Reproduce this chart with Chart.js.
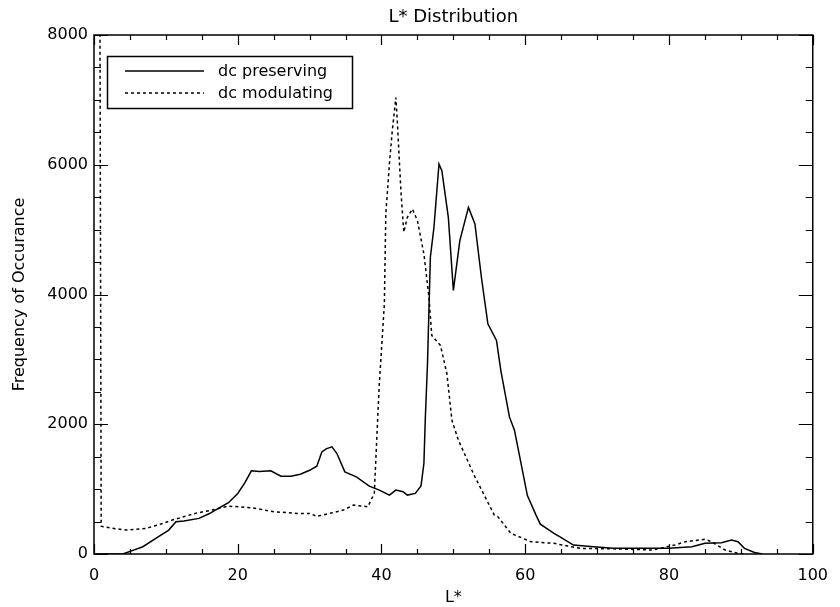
<!DOCTYPE html>
<html>
<head>
<meta charset="utf-8">
<script src="https://cdn.jsdelivr.net/npm/chart.js@4/dist/chart.umd.min.js"></script>
<style>
html,body{margin:0;padding:0;background:#fff;}
#c{display:block;}
</style>
</head>
<body>
<canvas id="c" width="840" height="607"></canvas>
<script>
// ---- data ----
const titleText = "L* Distribution";
const xTitle = "L*";
const yTitle = "Frequency of Occurance";
const seriesNames = ["dc preserving", "dc modulating"];

const xTicks = [0, 20, 40, 60, 80, 100];
const yTicks = [0, 2000, 4000, 6000, 8000];

const preservingL = [0, 4, 4.5, 5.5, 6.8, 8.6, 10.4, 11.4, 12.5, 14.6, 16, 17.3, 18.7, 20.0, 21.0, 21.9, 23, 24.6, 26.0, 27.4, 28.7, 30, 31.0, 31.7, 32.3, 33.1, 33.8, 34.9, 36.5, 38.3, 39.7, 41.1, 42.0, 43.0, 43.6, 44.7, 45.5, 45.9, 46.1, 46.4, 46.8, 47.3, 48.0, 48.4, 49.3, 50.0, 50.9, 52.1, 53.0, 53.9, 54.8, 56.0, 56.6, 57.8, 58.5, 60.3, 61.5, 62.1, 64.0, 64.9, 66.7, 69.5, 72.2, 76.8, 80.0, 83.2, 85.0, 87.3, 88.7, 89.6, 90.5, 91.9, 93.0];
const preservingFreq = [0, 0, 20, 60, 112, 241, 369, 497, 510, 549, 620, 703, 790, 934, 1100, 1282, 1270, 1282, 1200, 1200, 1230, 1290, 1354, 1574, 1620, 1651, 1549, 1266, 1190, 1046, 985, 908, 985, 960, 908, 934, 1050, 1395, 2100, 2933, 4574, 5036, 6011, 5908, 5190, 4062, 4831, 5343, 5088, 4266, 3549, 3292, 2831, 2113, 1908, 900, 600, 460, 318, 260, 138, 113, 87, 87, 87, 113, 164, 174, 215, 190, 87, 24, 0];

const modulatingL = [0.8, 1.0, 1.3, 3, 4.5, 7.2, 9, 10.9, 14.1, 16.4, 18.7, 21.9, 25.1, 28.3, 30.0, 31.0, 32.8, 34.7, 36.1, 38.1, 39.0, 39.5, 39.7, 40.4, 40.6, 41.1, 41.5, 42.0, 42.2, 42.7, 43.1, 43.6, 44.3, 45.0, 45.9, 46.6, 47.0, 48.2, 49.1, 49.8, 50.7, 53.0, 55.7, 56.2, 58.0, 60.8, 64.0, 67.6, 72.0, 77.7, 80.8, 82.3, 85.0, 85.9, 87.8, 89.6, 90.5];
const modulatingFreq = [9500, 430, 420, 390, 369, 395, 450, 523, 626, 677, 738, 713, 651, 626, 626, 580, 626, 677, 754, 728, 934, 2164, 2626, 3857, 5241, 6011, 6523, 7036, 6677, 5600, 4959, 5190, 5318, 5138, 4626, 3959, 3369, 3215, 2780, 2062, 1754, 1189, 600, 574, 318, 190, 164, 87, 80, 62, 138, 190, 226, 190, 62, 10, 0];

const xMinorStep = 5;
const yMinorStep = 500;

// ---- build chart ----
const FONT = "'DejaVu Sans', sans-serif";
const toPts = (xs, ys) => xs.map((x, i) => ({x: x, y: ys[i]}));

const framePlugin = {
  id: 'frameTicks',
  afterDraw(chart) {
    const ctx = chart.ctx, a = chart.chartArea;
    const xs = chart.scales.x, ys = chart.scales.y;
    ctx.save();
    ctx.strokeStyle = '#000';
    ctx.lineWidth = 1.5;
    ctx.strokeRect(a.left, a.top, a.right - a.left, a.bottom - a.top);
    ctx.lineWidth = 1.2;
    ctx.beginPath();
    for (let v = xs.min; v <= xs.max + 1e-9; v += xMinorStep) {
      const px = Math.round(xs.getPixelForValue(v)) + 0.5;
      const major = xTicks.includes(v);
      const len = major ? 10 : 5;
      ctx.moveTo(px, a.bottom); ctx.lineTo(px, a.bottom - len);
      ctx.moveTo(px, a.top); ctx.lineTo(px, a.top + len);
    }
    for (let v = ys.min; v <= ys.max + 1e-9; v += yMinorStep) {
      const py = Math.round(ys.getPixelForValue(v)) + 0.5;
      const major = yTicks.includes(v);
      const len = major ? 14 : 7;
      ctx.moveTo(a.left, py); ctx.lineTo(a.left + len, py);
      ctx.moveTo(a.right, py); ctx.lineTo(a.right - len, py);
    }
    ctx.stroke();

    // legend box inside plot
    const bx = a.left + 13, by = a.top + 21, bw = 245, bh = 52;
    ctx.fillStyle = '#fff';
    ctx.fillRect(bx, by, bw, bh);
    ctx.lineWidth = 1.5;
    ctx.strokeRect(bx + 0.5, by + 0.5, bw, bh);
    ctx.font = '16px ' + FONT;
    ctx.textBaseline = 'middle';
    ctx.fillStyle = '#000';
    chart.data.datasets.forEach((ds, i) => {
      const yy = by + 15 + i * 22;
      ctx.beginPath();
      ctx.lineWidth = ds.borderWidth;
      ctx.setLineDash(ds.borderDash || []);
      ctx.moveTo(bx + 18, yy); ctx.lineTo(bx + 97, yy);
      ctx.stroke();
      ctx.setLineDash([]);
      ctx.fillText(ds.label, bx + 111, yy + 1);
    });
    ctx.restore();
  }
};

new Chart(document.getElementById('c'), {
  type: 'line',
  data: {
    datasets: [
      {label: seriesNames[0], data: toPts(preservingL, preservingFreq), borderColor: '#000', borderWidth: 1.5, pointRadius: 0, tension: 0, fill: false},
      {label: seriesNames[1], data: toPts(modulatingL, modulatingFreq), borderColor: '#000', borderWidth: 1.5, borderDash: [3, 3], pointRadius: 0, tension: 0, fill: false}
    ]
  },
  options: {
    responsive: false,
    animation: false,
    devicePixelRatio: 1,
    layout: {padding: {left: 0, right: 17, top: 0, bottom: 0}},
    plugins: {
      legend: {display: false},
      tooltip: {enabled: false},
      title: {
        display: true, text: titleText, fullSize: false, color: '#000',
        font: {family: FONT, size: 18, weight: 'normal', lineHeight: 1.2},
        padding: {top: 7, bottom: 6.4}
      }
    },
    scales: {
      x: {
        type: 'linear', min: 0, max: 100,
        grid: {display: false, drawTicks: false},
        border: {display: false},
        ticks: {stepSize: 20, padding: 12, color: '#000', font: {family: FONT, size: 16}, maxRotation: 0,
                callback: v => xTicks.includes(v) ? String(v) : ''},
        title: {display: true, text: xTitle, color: '#000', font: {family: FONT, size: 16}, padding: {top: 0, bottom: 0}},
        afterFit: s => { s.height = 53; }
      },
      y: {
        type: 'linear', min: 0, max: 8000,
        grid: {display: false, drawTicks: false},
        border: {display: false},
        ticks: {stepSize: 2000, padding: 6, color: '#000', font: {family: FONT, size: 16},
                callback: v => yTicks.includes(v) ? String(v) : ''},
        title: {display: true, text: yTitle, color: '#000', font: {family: FONT, size: 16}, padding: {top: 10, bottom: 0}},
        afterFit: s => { s.width = 94; }
      }
    }
  },
  plugins: [framePlugin]
});
</script>
</body>
</html>
